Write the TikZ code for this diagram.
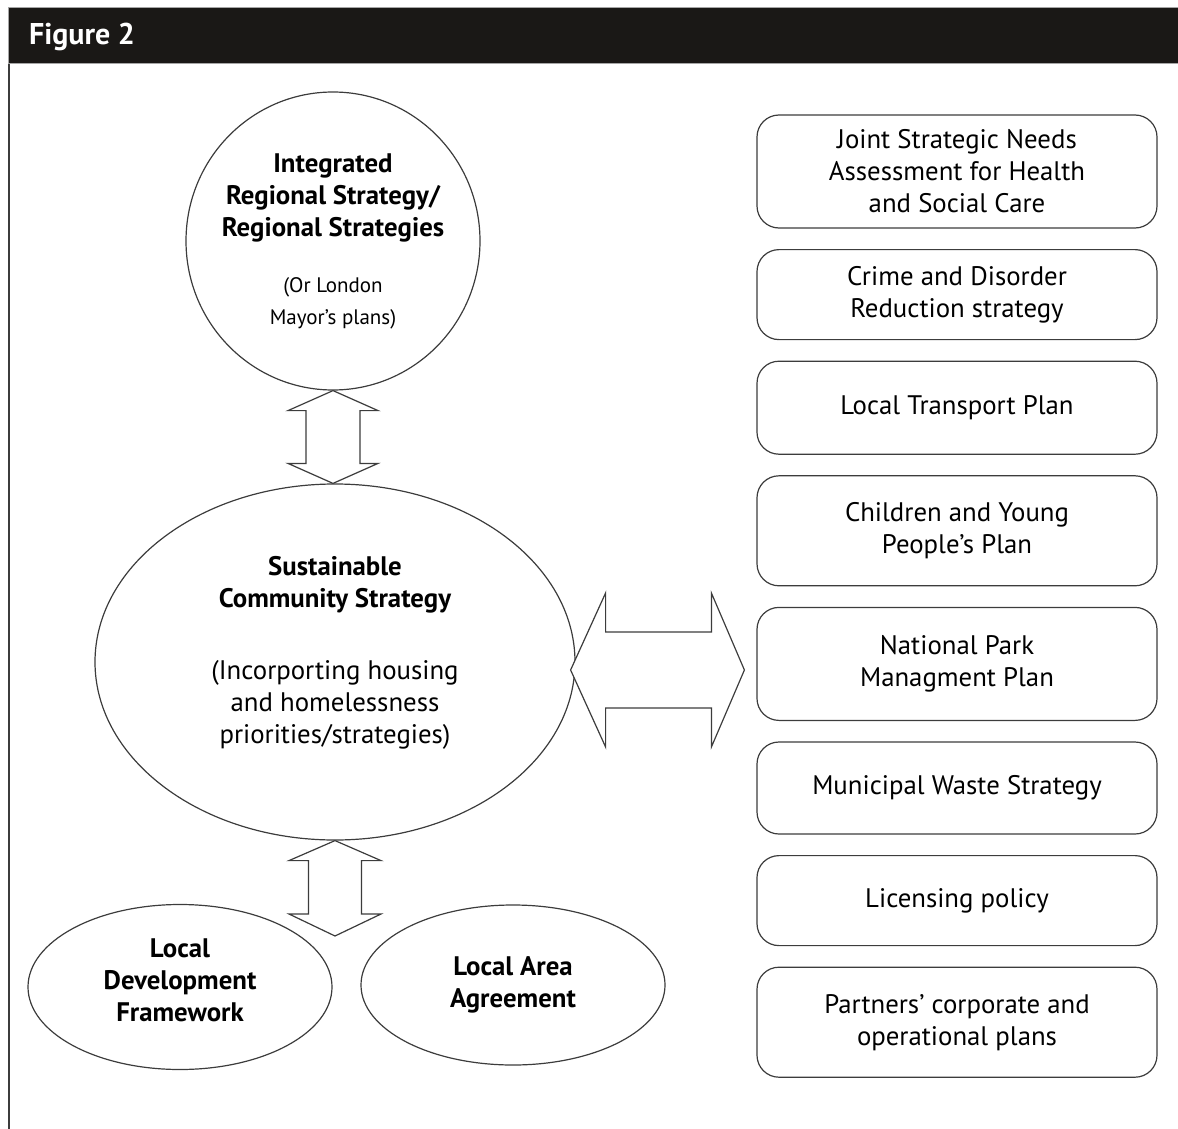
\documentclass[tikz,border=0pt]{standalone}
\usepackage{fontspec}
\setmainfont{PT Sans}
\usetikzlibrary{positioning, calc, shapes.geometric}
\definecolor{linegray}{RGB}{60, 60, 60}
\definecolor{barblack}{RGB}{26, 24, 22}

\begin{document}
\begin{tikzpicture}[
    x=0.5pt, y=-0.5pt,
    node distance=10.2pt,
    plan/.style={draw=linegray, line width=0.6pt, rounded corners=11pt, minimum width=200pt, font=\fontsize{13.4}{16}\selectfont, align=center, inner sep=2pt},
    bubble/.style={draw=linegray, line width=0.6pt, ellipse, inner sep=-8pt, align=center, font=\bfseries\fontsize{13.4}{16}\selectfont},
    blockarrow/.style={draw=linegray, line width=0.6pt, fill=white, line join=miter}
]
    \useasboundingbox (0,0) rectangle (1178,1129);

    % Header bar and frame
    \fill[barblack] (8,8) rectangle (1178,64);
    \draw[gray!70, line width=0.5pt] (8,64) -- (8,8) -- (1178,8);
    \draw[gray!70, line width=0.5pt] (8,64) -- (1178,64);
    \node[anchor=west, text=white, font=\bfseries\fontsize{15}{18}\selectfont] (title) at (22,37) {Figure 2};
    \draw[linegray, line width=0.8pt] (9,64) -- (9,1129);

    % Nodes - left column
    \node[bubble, minimum width=147pt, minimum height=149pt] (regional) at (333,241)
        {Integrated\\Regional Strategy/\\Regional Strategies\\[12pt]
         {\normalfont\fontsize{10.5}{13}\selectfont (Or London}\\
         {\normalfont\fontsize{10.5}{13}\selectfont Mayor's plans)}};
    \node[bubble, minimum width=240pt, minimum height=178pt] (community) at (335,662)
        {Sustainable\\Community Strategy\\[20pt]
         {\normalfont (Incorporting housing}\\{\normalfont and homelessness}\\
         {\normalfont priorities/strategies)}\\[-4pt]{}};
    \node[bubble, minimum width=152pt, minimum height=82.5pt] (ldf) at (180,987)
        {Local\\Development\\Framework\\[-9pt]{}};
    \node[bubble, minimum width=152pt, minimum height=80pt] (laa) at (513,985)
        {Local Area\\Agreement};

    % Nodes - right column
    \node[plan, minimum height=56.5pt] (jsna) at (957,171.5) {Joint Strategic Needs\\Assessment for Health\\and Social Care};
    \node[plan, minimum height=45pt, below=of jsna] (crime) {Crime and Disorder\\Reduction strategy};
    \node[plan, minimum height=46.5pt, below=of crime] (transport) {Local Transport Plan};
    \node[plan, minimum height=55pt, below=of transport] (children) {Children and Young\\People's Plan};
    \node[plan, minimum height=56.5pt, below=of children] (park) {National Park\\Managment Plan};
    \node[plan, minimum height=46pt, below=of park] (waste) {Municipal Waste Strategy};
    \node[plan, minimum height=45pt, below=of waste] (licensing) {Licensing policy};
    \node[plan, minimum height=55pt, below=of licensing] (partners) {Partners' corporate and\\operational plans};

    % Free ends of the block arrows
    \coordinate (split) at ($(ldf.east)!0.5!(laa.west)+(0,-50)$);
    \coordinate (scsout) at ($(community.east)+(-5,8)$);
    \coordinate (parkin) at ($(park.west)+(-12,7)$);

    % Block arrows
    \draw[blockarrow] let \p1=(regional.south), \p2=(community.north) in
        (\x1,\y1) -- (\x1+22.5pt,\y1-10pt) -- (\x1+13.5pt,\y1-10pt) -- (\x1+13.5pt,\y2+10pt)
        -- (\x1+22.5pt,\y2+10pt) -- (\x1,\y2) -- (\x1-22.5pt,\y2+10pt) -- (\x1-13.5pt,\y2+10pt)
        -- (\x1-13.5pt,\y1-10pt) -- (\x1-22.5pt,\y1-10pt) -- cycle;
    \draw[blockarrow] let \p1=(community.south), \p2=(split) in
        (\x1,\y1) -- (\x1+23pt,\y1-10pt) -- (\x1+13.25pt,\y1-10pt) -- (\x1+13.25pt,\y2+11pt)
        -- (\x1+23pt,\y2+11pt) -- (\x1,\y2) -- (\x1-23pt,\y2+11pt) -- (\x1-13.25pt,\y2+11pt)
        -- (\x1-13.25pt,\y1-10pt) -- (\x1-23pt,\y1-10pt) -- cycle;
    \draw[blockarrow] let \p1=(scsout), \p2=(parkin) in
        (\x1,\y1) -- (\x1+17.5pt,\y1+38.5pt) -- (\x1+17.5pt,\y1+19pt) -- (\x2-16.5pt,\y1+19pt)
        -- (\x2-16.5pt,\y1+38.5pt) -- (\x2,\y1) -- (\x2-16.5pt,\y1-38.5pt) -- (\x2-16.5pt,\y1-19pt)
        -- (\x1+17.5pt,\y1-19pt) -- (\x1+17.5pt,\y1-38.5pt) -- cycle;
\end{tikzpicture}
\end{document}
